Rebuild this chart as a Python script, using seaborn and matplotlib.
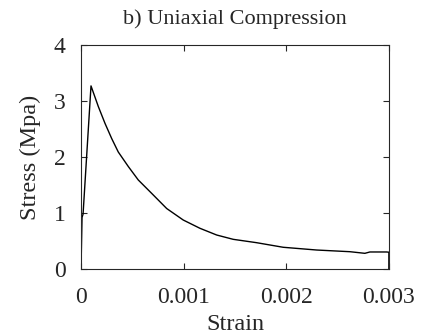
import matplotlib
matplotlib.use("Agg")
import matplotlib.pyplot as plt
import pandas as pd
import seaborn as sns

sns.set_style("ticks")
plt.rcParams["font.family"] = ["Liberation Serif", "DejaVu Serif"]
plt.rcParams["xtick.direction"] = "in"
plt.rcParams["ytick.direction"] = "in"

# stress-strain path
strain = [0.0, 0.00001, 0.00002, 0.0000974, 0.000169, 0.000234, 0.000299, 0.000363,
          0.000461, 0.000558, 0.000689, 0.000835, 0.000996, 0.001159, 0.001322,
          0.001483, 0.001711, 0.00197, 0.002296, 0.00262, 0.002766, 0.002815,
          0.002978, 0.003, 0.003]
stress = [0.0, 0.92, 0.98, 3.27, 2.90, 2.60, 2.33, 2.09,
          1.83, 1.59, 1.35, 1.08, 0.875, 0.727, 0.607,
          0.530, 0.470, 0.388, 0.339, 0.309, 0.280, 0.304,
          0.304, 0.30, 0.0]

xticks = [0, 0.001, 0.002, 0.003]
xtick_labels = ["0", "0.001", "0.002", "0.003"]
yticks = [0, 1, 2, 3, 4]

df = pd.DataFrame({"strain": strain, "stress": stress})

fig = plt.figure(figsize=(4.25, 3.36), dpi=100)
ax = fig.add_axes([0.1906, 0.1994, 0.7244, 0.6666])
sns.lineplot(x="strain", y="stress", data=df, sort=False, estimator=None,
             color="black", linewidth=1.0, ax=ax)

ax.set_xlim(0, 0.003)
ax.set_ylim(0, 4)
ax.set_xticks(xticks)
ax.set_xticklabels(xtick_labels)
ax.set_yticks(yticks)
ax.tick_params(axis="both", labelsize=17, length=4, width=0.8,
               top=True, right=True)
ax.tick_params(axis="x", pad=13)
ax.tick_params(axis="y", pad=11)
for s in ax.spines.values():
    s.set_linewidth(0.8)

ax.set_xlabel("Strain", fontsize=17.5, labelpad=4)
ax.set_ylabel("Stress (Mpa)", fontsize=17.5, labelpad=9)
ax.set_title("b) Uniaxial Compression", fontsize=16, pad=15)

fig.savefig("out.png", dpi=100)
